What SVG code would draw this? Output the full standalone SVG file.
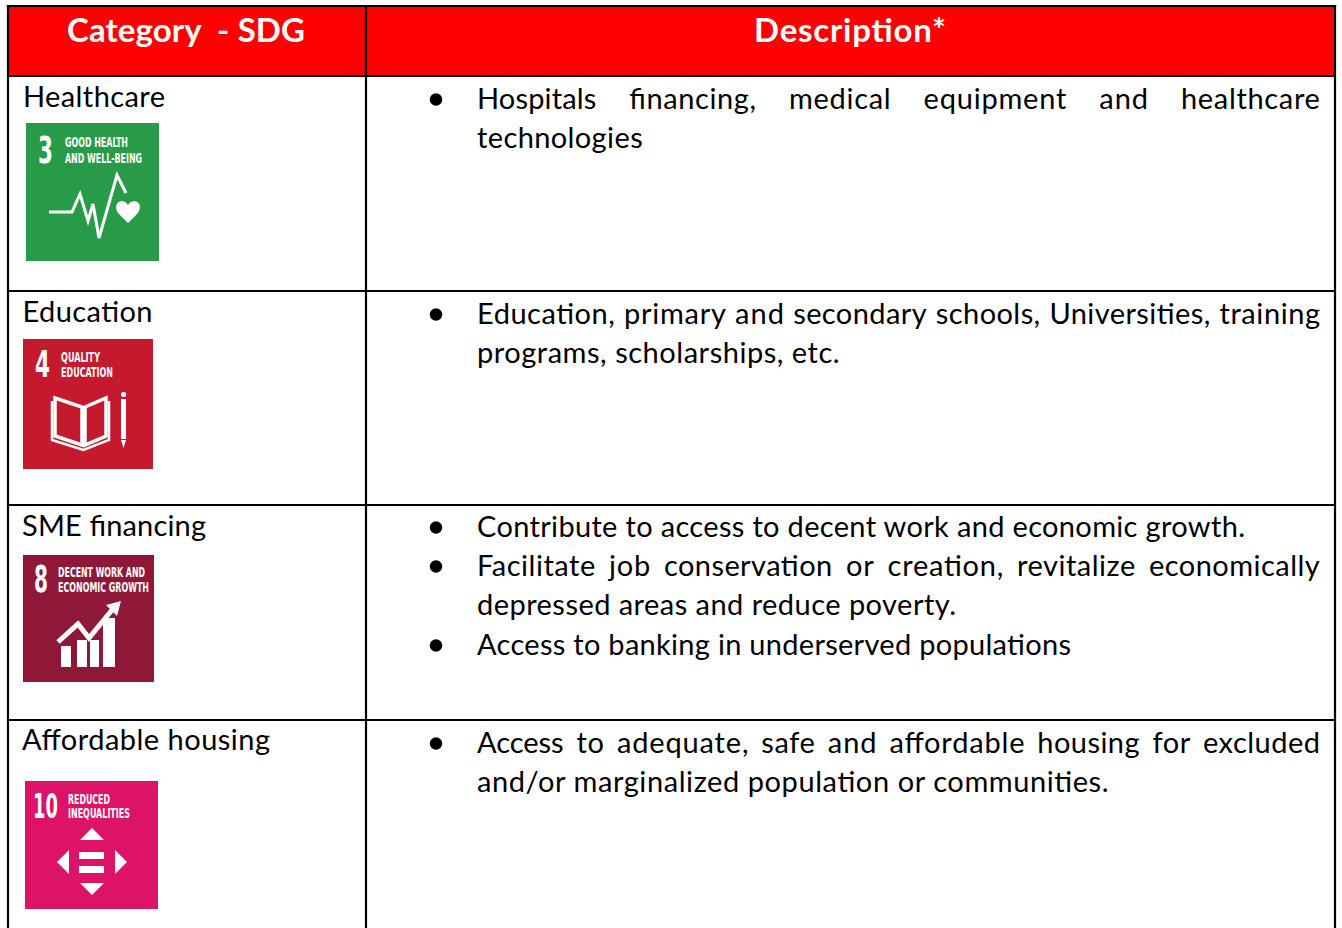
<svg xmlns="http://www.w3.org/2000/svg" width="1342" height="928" viewBox="0 0 1342 928">
<style>
.t{font-family:Lato,"Open Sans","Liberation Sans",sans-serif;font-size:29px;fill:#000}
.h{font-family:Lato,"Open Sans","Liberation Sans",sans-serif;font-size:33px;font-weight:bold;fill:#fff}
.n{font-family:"Liberation Sans Narrow","DejaVu Sans Condensed","DejaVu Sans",sans-serif;font-weight:bold;font-stretch:condensed;fill:#fff}
.big{font-size:38px}
.sm{font-size:14.5px}
.w{fill:#fff}
.ws{fill:none;stroke:#fff;stroke-linejoin:miter}
.grid line{stroke:#000;stroke-width:2.2}
.bul{fill:#000}
</style>
<rect width="1342" height="928" fill="#fff"/>
<rect x="8" y="6" width="1327" height="70" fill="#ff0000"/>

<g id="header">
<text class="h" x="67" y="42" textLength="238" lengthAdjust="spacing" xml:space="preserve">Category  - SDG</text>
<text class="h" x="754" y="42" textLength="192" lengthAdjust="spacing">Description*</text>
</g>

<g id="row-healthcare">
<text class="t" x="23" y="107" textLength="142" lengthAdjust="spacing">Healthcare</text>
<g id="sdg3">
<rect x="26" y="123" width="133" height="138" fill="#279b48"/>
<text class="n big" x="38" y="163" textLength="15" lengthAdjust="spacingAndGlyphs">3</text>
<text class="n sm" x="65" y="147" textLength="63" lengthAdjust="spacingAndGlyphs">GOOD HEALTH</text>
<text class="n sm" x="65" y="163" textLength="77" lengthAdjust="spacingAndGlyphs">AND WELL-BEING</text>
<polyline class="ws" stroke-width="3" points="49,212 72,212 80,194 88,221 93,204 99,238 117,175 126,193"/>
<path class="w" d="M128,223 L119,214 C115,210 115,203 120,201.5 C123.5,200.5 126.5,202.5 128,205 C129.5,202.5 132.5,200.5 136,201.5 C141,203 141,210 137,214 Z"/>
</g>
<circle class="bul" cx="436" cy="99.5" r="6.2"/>
<text class="t" y="109"><tspan x="477" textLength="119.3" lengthAdjust="spacing">Hospitals</tspan><tspan x="629.2" textLength="126.8" lengthAdjust="spacing">financing,</tspan><tspan x="788.9" textLength="101.8" lengthAdjust="spacing">medical</tspan><tspan x="923.6" textLength="142.7" lengthAdjust="spacing">equipment</tspan><tspan x="1099.2" textLength="48.9" lengthAdjust="spacing">and</tspan><tspan x="1181" textLength="138.9" lengthAdjust="spacing">healthcare</tspan></text>
<text class="t" x="477" y="148" textLength="165.7" lengthAdjust="spacing">technologies</text>
</g>

<g id="row-education">
<text class="t" x="22.5" y="322" textLength="130" lengthAdjust="spacing">Education</text>
<g id="sdg4">
<rect x="23" y="339" width="130" height="130" fill="#c5192d"/>
<text class="n big" x="35" y="377" textLength="15" lengthAdjust="spacingAndGlyphs">4</text>
<text class="n sm" x="61" y="362" textLength="39" lengthAdjust="spacingAndGlyphs">QUALITY</text>
<text class="n sm" x="61" y="377" textLength="52" lengthAdjust="spacingAndGlyphs">EDUCATION</text>
<path class="ws" stroke-width="3.5" d="M55,398 L82,407 L82,445 L55,436 Z M85,407 L106,398 L106,436 L85,445 Z"/>
<path class="ws" stroke-width="2.5" d="M52,401 L52,440 L83.5,450 L109,440 L109,401"/>
<rect class="w" x="121" y="399" width="5" height="40"/>
<polygon class="w" points="121,440 126,440 123.5,448"/>
<rect class="w" x="121" y="392" width="5" height="5" rx="2"/>
</g>
<circle class="bul" cx="436" cy="314.5" r="6.2"/>
<text class="t" y="324"><tspan x="477" textLength="137.8" lengthAdjust="spacing">Education,</tspan><tspan x="624" textLength="101.9" lengthAdjust="spacing">primary</tspan><tspan x="735.1" textLength="48.9" lengthAdjust="spacing">and</tspan><tspan x="793.2" textLength="133.4" lengthAdjust="spacing">secondary</tspan><tspan x="935.8" textLength="104.4" lengthAdjust="spacing">schools,</tspan><tspan x="1049.4" textLength="160.9" lengthAdjust="spacing">Universities,</tspan><tspan x="1219.5" textLength="100.5" lengthAdjust="spacing">training</tspan></text>
<text class="t" x="477" y="363" textLength="362.7" lengthAdjust="spacing">programs, scholarships, etc.</text>
</g>

<g id="row-sme">
<text class="t" x="22" y="536" textLength="184" lengthAdjust="spacing">SME financing</text>
<g id="sdg8">
<rect x="23" y="555" width="131" height="127" fill="#8f1838"/>
<text class="n big" x="34" y="592" textLength="14" lengthAdjust="spacingAndGlyphs">8</text>
<text class="n sm" x="58" y="577" textLength="87" lengthAdjust="spacingAndGlyphs">DECENT WORK AND</text>
<text class="n sm" x="58" y="592" textLength="91" lengthAdjust="spacingAndGlyphs">ECONOMIC GROWTH</text>
<rect class="w" x="61" y="646" width="10" height="21"/>
<rect class="w" x="77" y="640" width="10" height="27"/>
<rect class="w" x="90" y="640" width="9" height="27"/>
<rect class="w" x="103" y="618" width="12" height="49"/>
<polyline class="ws" stroke-width="5" points="58,642 78,624 89,638 112,610"/>
<polygon class="w" points="121,601 106,605 117,616"/>
</g>
<circle class="bul" cx="436" cy="527.5" r="6.2"/>
<text class="t" x="477" y="537" textLength="768" lengthAdjust="spacing">Contribute to access to decent work and economic growth.</text>
<circle class="bul" cx="436" cy="566.5" r="6.2"/>
<text class="t" y="576"><tspan x="477" textLength="118.2" lengthAdjust="spacing">Facilitate</tspan><tspan x="608.9" textLength="41.3" lengthAdjust="spacing">job</tspan><tspan x="663.9" textLength="168.3" lengthAdjust="spacing">conservation</tspan><tspan x="845.9" textLength="28" lengthAdjust="spacing">or</tspan><tspan x="887.6" textLength="115.7" lengthAdjust="spacing">creation,</tspan><tspan x="1017" textLength="118.2" lengthAdjust="spacing">revitalize</tspan><tspan x="1148.9" textLength="170.9" lengthAdjust="spacing">economically</tspan></text>
<text class="t" x="477" y="615" textLength="479" lengthAdjust="spacing">depressed areas and reduce poverty.</text>
<circle class="bul" cx="436" cy="645.5" r="6.2"/>
<text class="t" x="477" y="655" textLength="594" lengthAdjust="spacing">Access to banking in underserved populations</text>
</g>

<g id="row-housing">
<text class="t" x="22" y="750" textLength="248" lengthAdjust="spacing">Affordable housing</text>
<g id="sdg10">
<rect x="25" y="781" width="133" height="128" fill="#dd1367"/>
<text class="n" font-size="24" transform="translate(33,818) scale(1,1.4)" x="0" y="0" textLength="25" lengthAdjust="spacingAndGlyphs">10</text>
<text class="n sm" x="68" y="804" textLength="42" lengthAdjust="spacingAndGlyphs">REDUCED</text>
<text class="n sm" x="68" y="818" textLength="62" lengthAdjust="spacingAndGlyphs">INEQUALITIES</text>
<polygon class="w" points="92,828 80,840 104,840"/>
<polygon class="w" points="80,883 104,883 92,895"/>
<polygon class="w" points="57,862 69,850 69,874"/>
<polygon class="w" points="127,862 115,850 115,874"/>
<rect class="w" x="79" y="852" width="25" height="7"/>
<rect class="w" x="79" y="866" width="25" height="7"/>
</g>
<circle class="bul" cx="436" cy="743.5" r="6.2"/>
<text class="t" y="753"><tspan x="477" textLength="86.6" lengthAdjust="spacing">Access</tspan><tspan x="576.4" textLength="27.6" lengthAdjust="spacing">to</tspan><tspan x="616.9" textLength="131.6" lengthAdjust="spacing">adequate,</tspan><tspan x="761.3" textLength="53.5" lengthAdjust="spacing">safe</tspan><tspan x="827.7" textLength="48.9" lengthAdjust="spacing">and</tspan><tspan x="889.4" textLength="135.1" lengthAdjust="spacing">affordable</tspan><tspan x="1037.3" textLength="102.2" lengthAdjust="spacing">housing</tspan><tspan x="1152.4" textLength="37.8" lengthAdjust="spacing">for</tspan><tspan x="1203" textLength="117" lengthAdjust="spacing">excluded</tspan></text>
<text class="t" x="477" y="792" textLength="631.6" lengthAdjust="spacing">and/or marginalized population or communities.</text>
</g>

<g id="connectors" class="grid">
<line x1="6.9" y1="6" x2="1336.1" y2="6"/>
<line x1="8" y1="5" x2="8" y2="930"/>
<line x1="1335" y1="5" x2="1335" y2="930"/>
<line x1="366" y1="5" x2="366" y2="930"/>
<line x1="8" y1="76" x2="1335" y2="76"/>
<line x1="8" y1="291" x2="1335" y2="291"/>
<line x1="8" y1="505" x2="1335" y2="505"/>
<line x1="8" y1="720" x2="1335" y2="720"/>
</g>
</svg>
